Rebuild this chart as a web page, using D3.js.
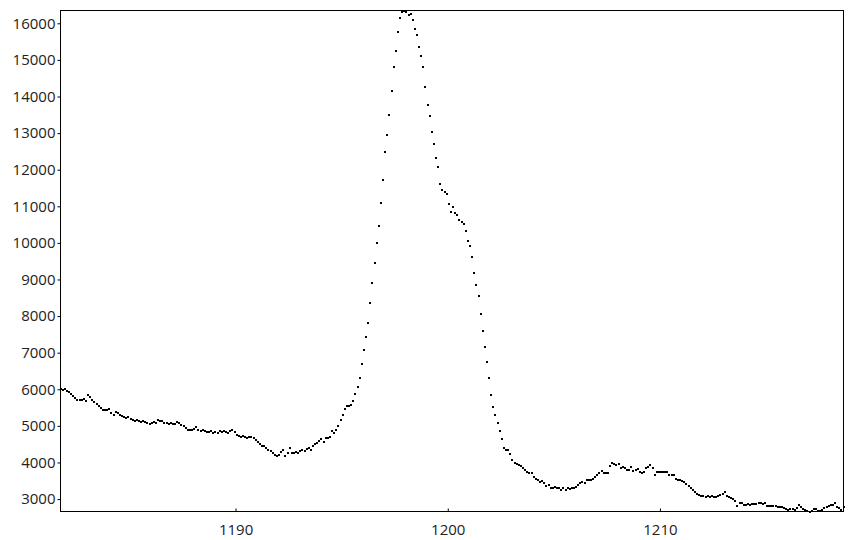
<!DOCTYPE html>
<head>
<meta charset="utf-8">
<title></title>
<style>

body {
  margin: 0;
  background: #fff;
}

.frame {
  fill: none;
  stroke: #000;
  stroke-width: 1px;
}

.axis path {
  display: none;
}

.axis line {
  stroke: #000;
}

.axis text {
  font: 15px "Open Sans", sans-serif;
  fill: #222;
}

.dot {
  fill: #000;
}

</style>
</head>

<body>
<script src="https://cdn.jsdelivr.net/npm/d3@7"></script>
<script>

// spectrum sampling: first x and spacing between points
var xStart = 1181.75,
    xStep = 0.1;

// intensity values, 10 per row (one row per x unit)
var intensity = [
  6010,5990,6005,5960,5930,5870,5820,5760,5710,5720,
  5700,5730,5690,5850,5790,5700,5650,5610,5550,5500,
  5440,5420,5440,5450,5350,5300,5390,5350,5300,5270,
  5250,5220,5250,5200,5160,5140,5160,5130,5110,5120,
  5100,5080,5060,5090,5110,5090,5150,5140,5120,5070,
  5080,5050,5070,5040,5060,5110,5070,5030,4990,4930,
  4880,4900,4880,4920,4980,4900,4870,4880,4850,4840,
  4830,4860,4800,4830,4810,4850,4820,4870,4830,4800,
  4850,4880,4830,4760,4720,4690,4710,4690,4680,4700,
  4690,4660,4620,4570,4510,4460,4440,4390,4350,4300,
  4260,4200,4180,4210,4290,4350,4180,4260,4400,4250,
  4260,4280,4270,4300,4330,4310,4370,4390,4350,4450,
  4500,4530,4600,4640,4570,4670,4670,4700,4850,4800,
  4890,4990,5170,5300,5460,5530,5550,5560,5690,5870,
  6070,6320,6700,7080,7420,7800,8350,8900,9450,9990,
  10450,11100,11720,12480,12950,13500,14150,14800,15250,15750,
  16150,16300,16350,16300,16240,16260,16100,15850,15690,15350,
  15100,14800,14250,13780,13480,13030,12700,12330,12080,11620,
  11450,11380,11330,11050,10850,10980,10830,10760,10620,10580,
  10520,10330,10060,9920,9620,9180,8860,8560,8050,7600,
  7150,6750,6300,5850,5520,5300,5080,4860,4650,4400,
  4350,4330,4230,4060,3990,3960,3930,3890,3850,3800,
  3740,3720,3700,3610,3560,3520,3470,3500,3430,3370,
  3380,3310,3300,3340,3310,3290,3260,3290,3250,3310,
  3270,3290,3300,3340,3390,3430,3470,3450,3510,3520,
  3530,3560,3610,3660,3720,3760,3720,3700,3710,3900,
  3990,3970,3930,3950,3840,3880,3840,3790,3800,3880,
  3770,3790,3820,3740,3720,3750,3840,3880,3930,3840,
  3660,3730,3750,3740,3750,3730,3740,3660,3650,3660,
  3560,3530,3520,3500,3470,3420,3370,3300,3240,3180,
  3140,3120,3090,3070,3060,3080,3050,3080,3060,3050,
  3080,3100,3150,3190,3080,3050,3040,3010,2960,2820,
  2880,2890,2840,2850,2860,2850,2860,2870,2870,2880,
  2880,2870,2880,2820,2810,2810,2800,2810,2790,2780,
  2770,2750,2740,2700,2740,2720,2700,2760,2830,2780,
  2740,2700,2670,2660,2670,2740,2720,2680,2670,2710,
  2760,2770,2800,2830,2840,2880,2780,2750,2700,2770
];

var yTicks = [3000,4000,5000,6000,7000,8000,9000,10000,11000,12000,13000,14000,15000,16000];
var xTicks = [1190, 1200, 1210];

var width = 853,
    height = 540;

var plotLeft = 60.5,
    plotRight = 843.5,
    plotTop = 10.5,
    plotBottom = 511.5;

var data = intensity.map(function(v, i) {
  return {x: xStart + i * xStep, y: v};
});

var x = d3.scaleLinear()
    .domain(d3.extent(data, function(d) { return d.x; }))
    .range([plotLeft, plotRight]);

var y = d3.scaleLinear()
    .domain(d3.extent(data, function(d) { return d.y; }))
    .range([plotBottom, plotTop]);

var svg = d3.select("body").append("svg")
    .attr("width", width)
    .attr("height", height);

// points
svg.append("g")
    .selectAll("rect")
    .data(data)
    .enter()
    .append("rect")
    .attr("class", "dot")
    .attr("x", function(d) { return Math.round(x(d.x)) - 1; })
    .attr("y", function(d) { return Math.round(y(d.y)) - 1; })
    .attr("width", 2)
    .attr("height", 2);

// frame
svg.append("rect")
    .attr("class", "frame")
    .attr("x", plotLeft)
    .attr("y", plotTop)
    .attr("width", plotRight - plotLeft)
    .attr("height", plotBottom - plotTop);

svg.append("g")
    .attr("class", "axis")
    .attr("transform", "translate(" + plotLeft + ",0)")
    .call(d3.axisLeft(y)
        .tickValues(yTicks)
        .tickFormat(d3.format("d"))
        .tickSize(3)
        .tickPadding(2));

svg.append("g")
    .attr("class", "axis")
    .attr("transform", "translate(0," + plotBottom + ")")
    .call(d3.axisBottom(x)
        .tickValues(xTicks)
        .tickFormat(d3.format("d"))
        .tickSize(-3)
        .tickPadding(13));

</script>
</body>
</html>
